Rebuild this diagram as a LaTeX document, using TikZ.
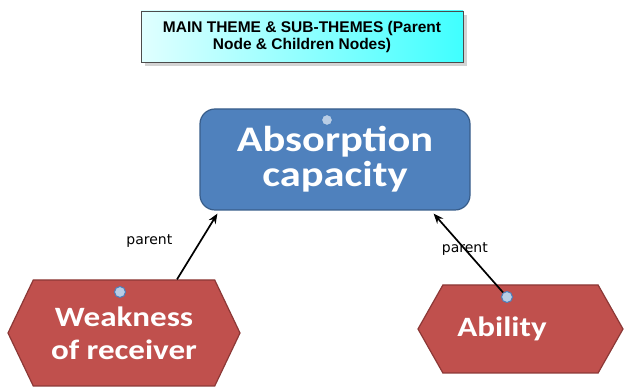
\documentclass[tikz,border=0pt]{standalone}
\usepackage{fontspec}
\usetikzlibrary{shapes.symbols,shadows,arrows.meta}
\newfontfamily\boxfont[FakeStretch=1.18]{Carlito}
\newfontfamily\titlefont{Liberation Sans}
\newfontfamily\labelfont{DejaVu Sans}
\definecolor{parentfill}{HTML}{4F81BD}
\definecolor{parentline}{HTML}{385D8A}
\definecolor{childfill}{HTML}{C0504D}
\definecolor{childline}{HTML}{8C3836}
\definecolor{portfill}{HTML}{B9CDE5}
\definecolor{portline}{HTML}{4A7EBB}
\tikzset{
  parentbox/.style={draw=parentline, fill=parentfill, line width=1.2pt, rounded corners=15pt,
    text=white, align=center, font=\boxfont\bfseries\fontsize{36}{35}\selectfont},
  childhex/.style={shape=signal, signal to=east and west, draw=childline, fill=childfill,
    line width=1.2pt, text=white, align=center, font=\boxfont\bfseries\fontsize{28}{33}\selectfont},
  port/.style={circle, draw=portline, fill=portfill, minimum size=11pt, inner sep=0pt, line width=1pt},
  link/.style={-{Stealth[length=10pt,width=8pt]}, line width=1.7pt},
}
\begin{document}
\begin{tikzpicture}[x=1pt,y=-1pt]
      \useasboundingbox (0,0) rectangle (625,387);
      \node[draw=black!70, line width=0.8pt, left color=cyan!12, right color=cyan!75,
            minimum width=322pt, minimum height=51pt, align=center,
            drop shadow={shadow xshift=4pt, shadow yshift=-4pt, opacity=0.35},
            font=\titlefont\bfseries\fontsize{15.5}{17}\selectfont]
            (title) at (302,36.5) {MAIN THEME \& SUB-THEMES (Parent\\Node \& Children Nodes)};
      \node[parentbox, minimum width=270pt, minimum height=101pt] (absorb) at (335,159.5) {Absorption\\capacity};
      \node[port] (absorbport) at (327,120) {};
      \node[childhex, minimum width=232pt, minimum height=106pt, signal pointer angle=129] (weak) at (124,333) {Weakness\\of receiver};
      \node[port] (weakport) at (120,292) {};
      \node[childhex, minimum width=205pt, minimum height=88pt, signal pointer angle=121] (ability) at (520.5,329) {Ability\hspace*{37pt}};
      \node[port] (abilityport) at (507,297) {};
      \draw[link] ([xshift=53pt]weak.north) -- ([xshift=18pt,yshift=-3pt]absorb.south west)
            node[pos=0.58, left=24pt, font=\labelfont\fontsize{14}{16}\selectfont] (leftlabel) {parent};
      \draw[link] (abilityport) -- ([xshift=-37pt,yshift=-3pt]absorb.south east)
            node[pos=0.55, font=\labelfont\fontsize{14}{16}\selectfont] (rightlabel) {parent};
\end{tikzpicture}
\end{document}
